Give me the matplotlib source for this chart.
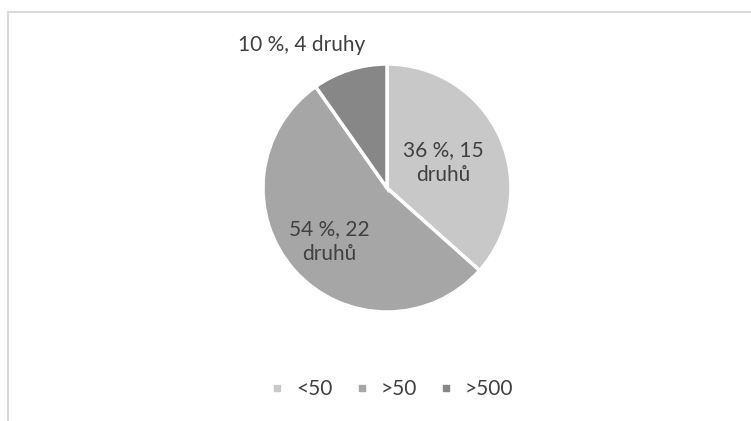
import numpy as np
import matplotlib.pyplot as plt
from matplotlib.lines import Line2D

categories = ['<50', '>50', '>500']
counts = [15, 22, 4]
percent = [36, 54, 10]
words = ['druhů', 'druhů', 'druhy']
colors = ['#C8C8C8', '#A6A6A6', '#878787']

plt.rcParams['font.family'] = ['Lato', 'DejaVu Sans']
txt = '#404040'

W, H = 751, 421
fig = plt.figure(figsize=(W/100, H/100), dpi=100)

# pie centre (387,188) px, radius 124 px
cx, cy, r = 387, 188, 124
ax = fig.add_axes([(cx-r)/W, (H-cy-r)/H, 2*r/W, 2*r/H])
wedges, _ = ax.pie(counts, colors=colors, startangle=90, counterclock=False,
                   wedgeprops=dict(edgecolor='white', linewidth=2.5))
ax.set_xlim(-1, 1)
ax.set_ylim(-1, 1)
ax.set_aspect('equal')

# labels: inside for the two big slices, outside for the small one
for i, w in enumerate(wedges):
    ang = np.deg2rad((w.theta1 + w.theta2) / 2)
    if i < 2:
        s = f'{percent[i]} %, {counts[i]}\n{words[i]}'
        d = [0.50, 0.62][i]
        dx = [0.0, 0.0][i]
        dy = [0.0, -0.02][i]
        ax.text(d*np.cos(ang)+dx, d*np.sin(ang)+dy, s, ha='center', va='center',
                fontsize=15, color=txt, linespacing=1.3)
    else:
        s = f'{percent[i]} %, {counts[i]} {words[i]}'
        ax.text(-0.69, 1.15, s, ha='center', va='center', fontsize=15,
                color=txt, clip_on=False)

handles = [Line2D([], [], marker='s', linestyle='none', markersize=5,
                  markerfacecolor=c, markeredgecolor=c) for c in colors]
fig.legend(handles, categories, loc='center', bbox_to_anchor=(389/W, 1-389/H),
           ncol=3, frameon=False, fontsize=15, labelcolor=txt,
           handletextpad=0.3, columnspacing=0.8, handlelength=1.2)

# chart border (only left and top edges are visible)
fig.add_artist(Line2D([8/W, 8/W], [0, 1-12/H], color='#D9D9D9', linewidth=1.5))
fig.add_artist(Line2D([8/W, 1], [1-12/H, 1-12/H], color='#D9D9D9', linewidth=1.5))

plt.savefig('out.png', dpi=100)
